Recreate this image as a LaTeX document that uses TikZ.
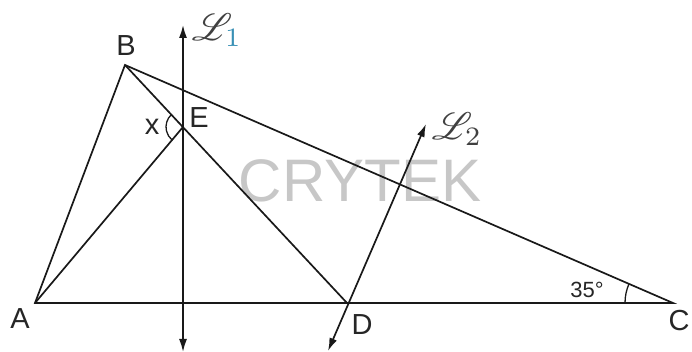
\documentclass[tikz,border=0pt]{standalone}
\usepackage{fontspec}
\setmainfont{Liberation Sans}
\usepackage{mathrsfs}
\usepackage{graphicx}
\usetikzlibrary{arrows.meta}
\begin{document}
\begin{tikzpicture}[x=1pt,y=1pt,
  seg/.style={line width=1.7pt, black!90},
  axis/.style={line width=1.7pt, black!90, {Latex[length=13pt,width=8pt]}-{Latex[length=13pt,width=8pt]}},
  lbl/.style={font=\fontsize{29}{29}\selectfont, text=black!85},
  ang/.style={line width=1.3pt, black!90}]
\useasboundingbox (0,0) rectangle (692,352);
\node[font=\fontsize{60}{60}\selectfont, text=black!22] (wm) at (360,171) {CRYTEK};
\coordinate (A) at (35,49);
\coordinate (B) at (125,287);
\coordinate (C) at (673,49);
\coordinate (D) at (347,49);
\coordinate (E) at (183,225);
\coordinate (L1t) at (183,327);
\coordinate (L1b) at (183,0);
\coordinate (L2t) at (426,228);
\coordinate (L2b) at (328,1);
\draw[seg] (A) -- (B) -- (C) -- cycle;
\draw[seg] (A) -- (E);
\draw[seg] (B) -- (D);
\draw[axis] (L1b) -- (L1t);
\draw[axis] (L2b) -- (L2t);
\draw[ang] ([shift={(133:17)}]E) arc[start angle=133,end angle=230,radius=17];
\draw[ang] ([shift={(156.5:48)}]C) arc[start angle=156.5,end angle=180,radius=48];
\node[lbl] (lB) at (126,306) {B};
\node[lbl] (lx) at (152,225) {x};
\node[lbl] (lE) at (199,234) {E};
\node[lbl] (lA) at (20,33) {A};
\node[lbl] (lD) at (362,27) {D};
\node[lbl, anchor=east] (lC) at (693,31) {C};
\node[font=\fontsize{22}{22}\selectfont, text=black!85] (l35) at (587,62) {35°};
\node[text=black!75] (lL1) at (217,322) {\scalebox{3.8}{$\mathscr{L}_{\textcolor{cyan!70!black}{1}}$}};
\node[text=black!75] (lL2) at (457,223) {\scalebox{3.8}{$\mathscr{L}_{2}$}};
\end{tikzpicture}
\end{document}
